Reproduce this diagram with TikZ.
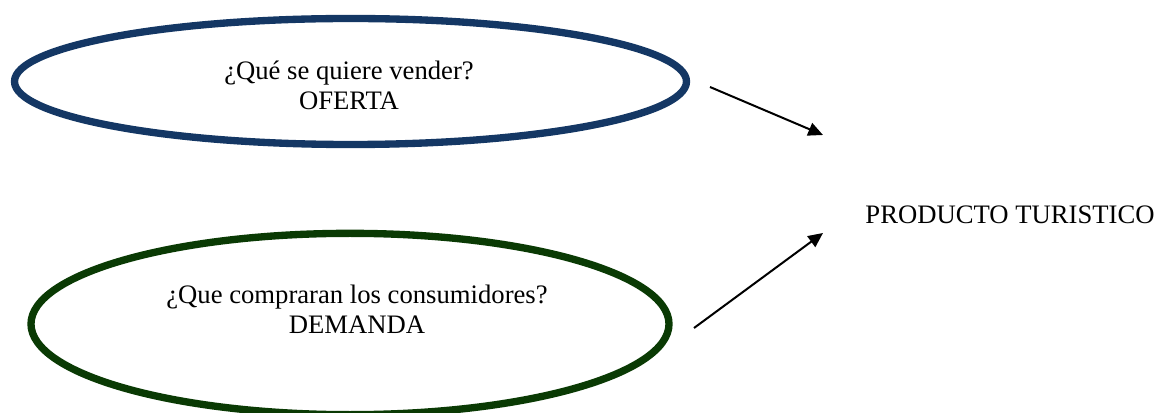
\documentclass[tikz,border=0pt]{standalone}
\usepackage{fontspec}
\setmainfont{Liberation Serif}
\usetikzlibrary{shapes.geometric, arrows.meta}

\begin{document}
\begin{tikzpicture}[x=0.75pt, y=-0.75pt]
    % Define styles for ovals, labels and arrows
    \tikzset{
        oval/.style={ellipse, line width=5.5pt, inner sep=0pt},
        ovaltext/.style={align=center, font=\fontsize{20}{22.5}\selectfont, inner sep=0pt},
        arrowline/.style={draw=black, line width=1.5pt, -{Triangle[length=11pt, width=10pt]}}
    }
        \definecolor{ofertablue}{RGB}{20,55,100} % Navy
        \definecolor{demandagreen}{RGB}{10,58,4} % Dark green

    \useasboundingbox (0,0) rectangle (1160,413);

    % ==========================================
    % OFERTA
    % ==========================================
    \node[oval, draw=ofertablue, minimum width=504pt, minimum height=94.5pt] (oferta) at (350.5,81.5) {};
    \node[ovaltext] (ofertatext) at (349,85) {¿Qué se quiere vender?\\OFERTA};

    % ==========================================
    % DEMANDA
    % ==========================================
    \node[oval, draw=demandagreen, minimum width=478.5pt, minimum height=136pt] (demanda) at (350,324) {};
    \node[ovaltext] (demandatext) at (357,309) {¿Que compraran los consumidores?\\DEMANDA};

    % ==========================================
    % PRODUCTO
    % ==========================================
    \node[ovaltext] (producto) at (1010,215) {PRODUCTO TURISTICO};

    % arrow ends
    \coordinate (ofertaout) at (710,87);
    \coordinate (ofertain) at (823,135);
    \coordinate (demandaout) at (694,328);
    \coordinate (demandain) at (823,233);

    \draw[arrowline] (ofertaout) -- (ofertain);
    \draw[arrowline] (demandaout) -- (demandain);

\end{tikzpicture}
\end{document}
